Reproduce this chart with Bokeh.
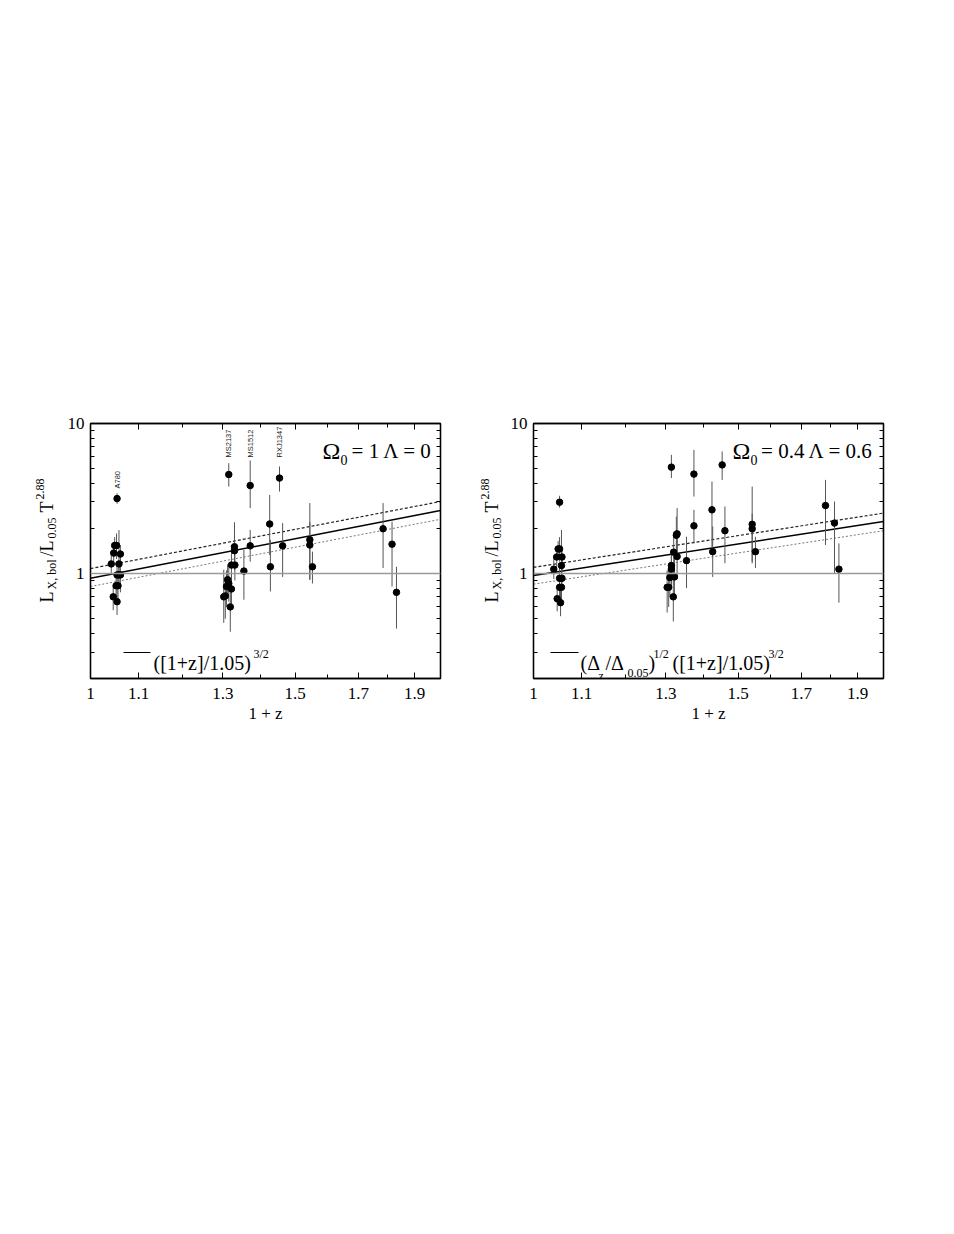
import math
from bokeh.plotting import figure
from bokeh.models import LogAxis, FixedTicker, Label, Span, Arrow, Range1d, ColumnDataSource
from bokeh.layouts import row
from bokeh.embed import file_html
from bokeh.resources import INLINE

# ---------------- data ----------------
x_major_ticks = [1.0, 1.1, 1.3, 1.5, 1.7, 1.9]
x_major_labels = ["1", "1.1", "1.3", "1.5", "1.7", "1.9"]
x_minor_ticks = [1.2, 1.4, 1.6, 1.8, 2.0]
y_major_ticks = [1.0, 10.0]
y_major_labels = ["1", "10"]
y_minor_ticks = [0.2, 0.3, 0.4, 0.5, 0.6, 0.7, 0.8, 0.9, 2, 3, 4, 5, 6, 7, 8, 9]
reference_level = 1.0

# Left panel: Omega_0 = 1, Lambda = 0
left_z1 = [1.042, 1.047, 1.049, 1.053, 1.061, 1.058, 1.054, 1.058, 1.061, 1.052, 1.056, 1.046, 1.054, 1.054,
           1.315, 1.372, 1.330, 1.330, 1.372, 1.322, 1.331, 1.355, 1.312, 1.315, 1.309, 1.322, 1.306, 1.302, 1.319,
           1.454, 1.426, 1.428, 1.463, 1.544, 1.544, 1.552, 1.785, 1.817, 1.833]
left_ratio = [1.16, 1.37, 1.54, 1.54, 1.35, 1.16, 0.98, 0.98, 0.98, 0.83, 0.83, 0.70, 0.65, 3.16,
              4.57, 3.86, 1.51, 1.42, 1.53, 1.14, 1.14, 1.04, 0.91, 0.86, 0.82, 0.79, 0.71, 0.70, 0.60,
              4.33, 2.14, 1.11, 1.53, 1.68, 1.55, 1.11, 1.99, 1.57, 0.75]
left_lo = [1.00, 1.15, 1.30, 1.25, 1.10, 0.95, 0.80, 0.85, 0.75, 0.70, 0.65, 0.57, 0.53, 2.92,
           3.80, 2.73, 1.10, 1.05, 1.20, 0.85, 0.90, 0.67, 0.70, 0.65, 0.60, 0.60, 0.50, 0.47, 0.41,
           3.52, 1.33, 0.76, 0.95, 0.91, 0.91, 0.86, 1.09, 0.82, 0.43]
left_hi = [1.32, 1.60, 1.75, 1.85, 1.55, 1.95, 1.20, 1.15, 1.30, 1.00, 1.05, 0.82, 0.80, 3.43,
           5.44, 5.67, 2.20, 1.90, 1.95, 1.55, 1.45, 1.44, 1.15, 1.10, 1.05, 1.00, 0.95, 1.06, 0.82,
           5.17, 3.34, 1.68, 2.17, 2.95, 2.20, 1.40, 2.95, 2.22, 1.11]

# Right panel: Omega_0 = 0.4, Lambda = 0.6
right_z1 = [1.041, 1.047, 1.050, 1.053, 1.058, 1.057, 1.053, 1.058, 1.053, 1.057, 1.048, 1.055, 1.053,
            1.314, 1.374, 1.374, 1.329, 1.327, 1.320, 1.329, 1.354, 1.314, 1.314, 1.322, 1.310, 1.303, 1.307, 1.319,
            1.453, 1.424, 1.461, 1.426, 1.542, 1.542, 1.552, 1.783, 1.815, 1.831]
right_ratio = [1.07, 1.29, 1.46, 1.46, 1.29, 1.13, 0.93, 0.93, 0.81, 0.81, 0.68, 0.64, 2.99,
               5.12, 4.60, 2.08, 1.84, 1.80, 1.39, 1.30, 1.22, 1.13, 1.07, 0.95, 0.94, 0.81, 0.81, 0.70,
               5.30, 2.66, 1.93, 1.40, 2.13, 1.99, 1.40, 2.84, 2.17, 1.07]
right_lo = [0.92, 1.10, 1.25, 1.20, 1.05, 0.90, 0.78, 0.80, 0.68, 0.65, 0.56, 0.52, 2.75,
            4.33, 3.26, 1.59, 1.30, 1.35, 1.00, 0.95, 0.80, 0.85, 0.80, 0.70, 0.70, 0.55, 0.60, 0.48,
            4.21, 1.44, 1.17, 0.95, 1.17, 1.20, 1.09, 1.55, 1.00, 0.64]
right_hi = [1.25, 1.50, 1.65, 1.75, 1.50, 1.95, 1.10, 1.25, 0.98, 1.00, 0.80, 0.78, 3.30,
            6.18, 6.67, 2.66, 2.73, 2.40, 1.90, 1.75, 1.76, 1.45, 1.35, 1.25, 1.20, 1.05, 1.10, 0.95,
            6.52, 4.11, 2.80, 2.06, 3.80, 2.50, 1.76, 4.21, 3.02, 1.59]

# Model curves (power laws -> straight lines in log-log), read at 1+z = 1 and 2
model_z1 = [1.0, 2.0]
left_model = [0.93, 2.63]
left_model_hi = [1.08, 3.02]
left_model_lo = [0.82, 2.30]
right_model = [0.97, 2.22]
right_model_hi = [1.10, 2.53]
right_model_lo = [0.85, 1.93]

cluster_names = ["A780", "MS2137", "MS1512", "RXJ1347"]
cluster_name_z1 = [1.054, 1.315, 1.372, 1.454]

# ---------------- layout helpers ----------------
FRAME_W, FRAME_H = 350, 255
BORDER_TOP, BORDER_BOTTOM = 423, 60
FRAME_BOTTOM_PAGE = BORDER_TOP + FRAME_H
X0, X1 = 1.0, 2.0
Y0, Y1 = 0.2, 10.0
SERIF = "Liberation Serif"


def to_data(fx, fy):
    xd = X0 * 10 ** (fx / FRAME_W * math.log10(X1 / X0))
    yd = Y0 * 10 ** (fy / FRAME_H * math.log10(Y1 / Y0))
    return xd, yd


def put(p, text, fx, fy, size, angle=0.0, align="left", baseline="alphabetic", font=SERIF):
    xd, yd = to_data(fx, fy)
    p.add_layout(Label(x=xd, y=yd, text=text, angle=angle, text_font=font,
                       text_font_size=f"{size}px", text_align=align,
                       text_baseline=baseline, text_color="black"))


def style_axis(ax, major, minor, labels=None):
    ax.ticker = FixedTicker(ticks=major, minor_ticks=minor)
    ax.major_tick_in = 6
    ax.major_tick_out = 0
    ax.minor_tick_in = 4
    ax.minor_tick_out = 0
    ax.axis_line_color = "black"
    ax.axis_line_width = 1.3
    ax.major_tick_line_color = "black"
    ax.minor_tick_line_color = "black"
    ax.major_label_text_font = SERIF
    ax.major_label_text_font_size = "17px"
    ax.major_label_text_color = "black"
    if labels is None:
        ax.major_label_overrides = {t: "" for t in major}
    else:
        ax.major_label_overrides = {t: s for t, s in zip(major, labels)}


def make_panel(z1, ratio, lo, hi, mod, mod_hi, mod_lo, border_left, border_right):
    p = figure(x_axis_type="log", y_axis_type="log",
               x_range=Range1d(X0, X1), y_range=Range1d(Y0, Y1),
               frame_width=FRAME_W, frame_height=FRAME_H,
               min_border_left=border_left, min_border_right=border_right,
               min_border_top=BORDER_TOP, min_border_bottom=BORDER_BOTTOM,
               output_backend="svg", toolbar_location=None)
    p.xgrid.visible = False
    p.ygrid.visible = False
    p.outline_line_color = "black"
    p.outline_line_width = 1.3
    p.background_fill_color = "white"
    p.border_fill_color = "white"

    style_axis(p.xaxis[0], x_major_ticks, x_minor_ticks, x_major_labels)
    p.xaxis[0].major_label_standoff = 9
    p.xaxis[0].axis_label = "1 + z"
    p.xaxis[0].axis_label_text_font = SERIF
    p.xaxis[0].axis_label_text_font_size = "17px"
    p.xaxis[0].axis_label_text_font_style = "normal"
    p.xaxis[0].axis_label_text_color = "black"
    p.xaxis[0].axis_label_standoff = 2
    style_axis(p.yaxis[0], y_major_ticks, y_minor_ticks, y_major_labels)
    p.yaxis[0].major_label_standoff = 6

    top = LogAxis()
    style_axis(top, x_major_ticks, x_minor_ticks)
    top.major_label_standoff = 0
    p.add_layout(top, "above")
    right = LogAxis()
    style_axis(right, y_major_ticks, y_minor_ticks)
    right.major_label_standoff = 0
    p.add_layout(right, "right")

    p.add_layout(Span(location=reference_level, dimension="width",
                      line_color="#9a9a9a", line_width=1.5))

    p.line(model_z1, mod_hi, line_color="#222222", line_width=1.2, line_dash="3 2")
    p.line(model_z1, mod_lo, line_color="#777777", line_width=1.0, line_dash="2 2")
    p.line(model_z1, mod, line_color="black", line_width=1.5)

    src = ColumnDataSource(dict(x=z1, y=ratio, lo=lo, hi=hi))
    p.segment(x0="x", y0="lo", x1="x", y1="hi", source=src, line_color="#555555", line_width=1)
    p.scatter(x="x", y="y", source=src, size=6.5, fill_color="black", line_color="black")
    return p


def ylabel_fig(width, base_x):
    """Narrow figure whose frame holds the rotated y-axis title (pieces for sub/superscripts).
    Its frame spans the same page rows as the panels' frames; y data = page pixel row."""
    f = figure(frame_width=width, frame_height=FRAME_H,
               x_range=Range1d(0, width), y_range=Range1d(FRAME_BOTTOM_PAGE, BORDER_TOP),
               min_border_left=0, min_border_right=0,
               min_border_top=BORDER_TOP, min_border_bottom=BORDER_BOTTOM,
               x_axis_location=None, y_axis_location=None, output_backend="svg",
               toolbar_location=None)
    f.grid.visible = False
    f.outline_line_color = None
    f.background_fill_color = "white"
    f.border_fill_color = "white"
    a = math.pi / 2
    pieces = [("L", 0, 602, 18), ("X, bol", 5, 589, 12), ("/L", 0, 556, 18),
              ("0.05", 5, 538, 12), ("T", 0, 512, 18), ("2.88", -7, 499, 12)]
    for txt, dx, page_y, size in pieces:
        f.add_layout(Label(x=base_x + dx, y=page_y, text=txt, angle=a,
                           text_font=SERIF, text_font_size=f"{size}px",
                           text_align="left", text_baseline="alphabetic", text_color="black"))
    return f


def legend_line(p, fx0, fx1, fy):
    xa, ya = to_data(fx0, fy)
    xb, yb = to_data(fx1, fy)
    p.add_layout(Arrow(end=None, x_start=xa, y_start=ya, x_end=xb, y_end=yb,
                       line_color="black", line_width=1))


# ---------------- left panel ----------------
lab1 = ylabel_fig(60, 46)
p1 = make_panel(left_z1, left_ratio, left_lo, left_hi,
                left_model, left_model_hi, left_model_lo, 30, 4)
put(p1, "Ω", 232, 228, 24)
put(p1, "0", 250, 219, 14)
put(p1, "= 1 Λ = 0", 342, 228, 21, align="right")
legend_line(p1, 33, 60, 26)
put(p1, "([1+z]/1.05)", 63, 16, 20)
put(p1, "3/2", 163, 25, 12)
_, name_y = to_data(0, 190)
_, name_y2 = to_data(0, 221)
for i, (nm, zx) in enumerate(zip(cluster_names, cluster_name_z1)):
    yy = name_y if i == 0 else name_y2
    p1.add_layout(Label(x=zx, y=yy, text=nm, angle=math.pi / 2, text_font="Liberation Sans",
                        text_font_size="7.5px", text_align="left", text_baseline="middle",
                        text_color="#222222"))

# ---------------- right panel ----------------
lab2 = ylabel_fig(62, 47)
p2 = make_panel(right_z1, right_ratio, right_lo, right_hi,
                right_model, right_model_hi, right_model_lo, 27, 60)
put(p2, "Ω", 199, 228, 24)
put(p2, "0", 217, 219, 14)
put(p2, "= 0.4 Λ = 0.6", 340, 228, 21, align="right")
legend_line(p2, 17, 45, 26)
put(p2, "(Δ", 47, 16, 20)
put(p2, "z", 65, 3, 12)
put(p2, "/Δ", 72, 16, 20)
put(p2, "0.05", 94, 6, 12)
put(p2, ")", 115, 16, 20)
put(p2, "1/2", 120, 25, 12)
put(p2, "([1+z]/1.05)", 139, 16, 20)
put(p2, "3/2", 235, 25, 12)

layout = row(lab1, p1, lab2, p2)
open("out.html", "w").write(file_html(layout, INLINE))
